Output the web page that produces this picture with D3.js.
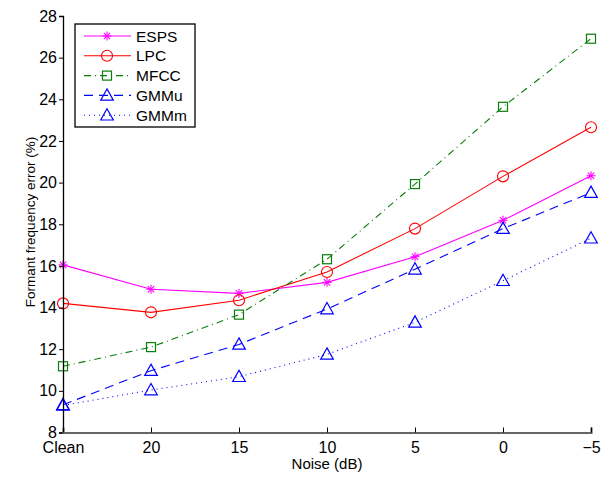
<!DOCTYPE html>
<html>
<head>
<meta charset="utf-8">
<script src="https://cdn.jsdelivr.net/npm/d3@7"></script>
<style>
  body { margin: 0; background: #fff; }
  text { font-family: "Liberation Sans", Arial, sans-serif; }
</style>
</head>
<body>
<script>
  var width = 603;
  var height = 477;
  var margin = {left: 63, right: 12, top: 16, bottom: 44.5};

  // data
  var categories = ['Clean', '20', '15', '10', '5', '0', '\u22125'];
  var esps = [16.05, 14.88, 14.68, 15.21, 16.44, 18.19, 20.33];
  var lpc  = [14.20, 13.77, 14.35, 15.71, 17.79, 20.30, 22.66];
  var mfcc = [11.18, 12.10, 13.66, 16.32, 19.93, 23.64, 26.91];
  var gmmu = [9.33, 10.97, 12.23, 13.93, 15.84, 17.79, 19.52];
  var gmmm = [9.30, 10.04, 10.68, 11.75, 13.29, 15.29, 17.33];
  var yTicks = [8, 10, 12, 14, 16, 18, 20, 22, 24, 26, 28];

  var series = [
    {name: 'ESPS', values: esps, color: '#ff00ff', dash: null, marker: 'star'},
    {name: 'LPC', values: lpc, color: '#ff0000', dash: null, marker: 'circle'},
    {name: 'MFCC', values: mfcc, color: '#0a7d0a', dash: '7,4,1,4', marker: 'square'},
    {name: 'GMMu', values: gmmu, color: '#0000ff', dash: '9,6', marker: 'triangle'},
    {name: 'GMMm', values: gmmm, color: '#0000ff', dash: '1,4', marker: 'triangle'}
  ];

  var svg = d3.select('body').append('svg')
    .attr('width', width)
    .attr('height', height);

  // scales
  var xScale = d3.scalePoint()
    .domain(categories)
    .range([margin.left, width - margin.right]);
  var yScale = d3.scaleLinear()
    .domain([8, 28])
    .range([height - margin.bottom, margin.top]);

  function drawMarker(g, type, color) {
    if (type === 'circle') {
      g.append('circle').attr('r', 5.5).attr('fill', 'none').attr('stroke', color).attr('stroke-width', 1.1);
    } else if (type === 'square') {
      g.append('rect').attr('x', -4.5).attr('y', -4.5).attr('width', 9).attr('height', 9)
        .attr('fill', 'none').attr('stroke', color).attr('stroke-width', 1.2);
    } else if (type === 'triangle') {
      g.append('path').attr('d', 'M0,-6.5L6.3,4.8L-6.3,4.8Z')
        .attr('fill', 'none').attr('stroke', color).attr('stroke-width', 1.2);
    } else {
      var r = 4.5;
      [0, 45, 90, 135].forEach(function(a) {
        var rad = a * Math.PI / 180;
        g.append('line')
          .attr('x1', -r * Math.cos(rad)).attr('y1', -r * Math.sin(rad))
          .attr('x2', r * Math.cos(rad)).attr('y2', r * Math.sin(rad))
          .attr('stroke', color).attr('stroke-width', 1.1);
      });
    }
  }

  var line = d3.line()
    .x(function(d, i) { return xScale(categories[i]); })
    .y(function(d) { return yScale(d); });

  series.forEach(function(s) {
    svg.append('path')
      .attr('d', line(s.values))
      .attr('fill', 'none')
      .attr('stroke', s.color)
      .attr('stroke-width', 1.1)
      .attr('stroke-dasharray', s.dash);
    s.values.forEach(function(v, i) {
      var g = svg.append('g')
        .attr('transform', 'translate(' + xScale(categories[i]) + ',' + yScale(v) + ')');
      drawMarker(g, s.marker, s.color);
    });
  });

  // axes
  var yAxis = svg.append('g')
    .attr('transform', 'translate(' + margin.left + ',0)')
    .call(d3.axisLeft(yScale).tickValues(yTicks).tickSize(4).tickPadding(2));
  yAxis.select('.domain').attr('stroke', '#000').attr('stroke-width', 1.3);
  yAxis.selectAll('text').attr('font-size', 16).attr('fill', '#000');

  var xAxis = svg.append('g')
    .attr('transform', 'translate(0,' + (height - margin.bottom) + ')')
    .call(d3.axisBottom(xScale).tickSize(-5).tickPadding(9.5));
  xAxis.select('.domain').attr('stroke', '#666').attr('stroke-width', 2.2);
  xAxis.selectAll('.tick line').attr('stroke', '#000');
  xAxis.selectAll('text').attr('font-size', 16).attr('fill', '#000');

  svg.append('text')
    .attr('x', (margin.left + width - margin.right) / 2)
    .attr('y', 469)
    .attr('text-anchor', 'middle')
    .attr('font-size', 15)
    .text('Noise (dB)');

  svg.append('text')
    .attr('transform', 'translate(35,222) rotate(-90)')
    .attr('text-anchor', 'middle')
    .attr('font-size', 13.5)
    .text('Formant frequency error (%)');

  // legend
  var legend = svg.append('g').attr('transform', 'translate(75,24)');
  legend.append('rect')
    .attr('width', 120).attr('height', 103)
    .attr('fill', '#fff').attr('stroke', '#000').attr('stroke-width', 1.3);
  series.forEach(function(s, i) {
    var yy = 12 + i * 19.8;
    legend.append('line')
      .attr('x1', 9).attr('x2', 56).attr('y1', yy).attr('y2', yy)
      .attr('stroke', s.color).attr('stroke-width', 1.1)
      .attr('stroke-dasharray', s.dash);
    var g = legend.append('g').attr('transform', 'translate(32,' + yy + ')');
    drawMarker(g, s.marker, s.color);
    legend.append('text')
      .attr('x', 61).attr('y', yy + 5.5)
      .attr('font-size', 15.5)
      .text(s.name);
  });
</script>
</body>
</html>
